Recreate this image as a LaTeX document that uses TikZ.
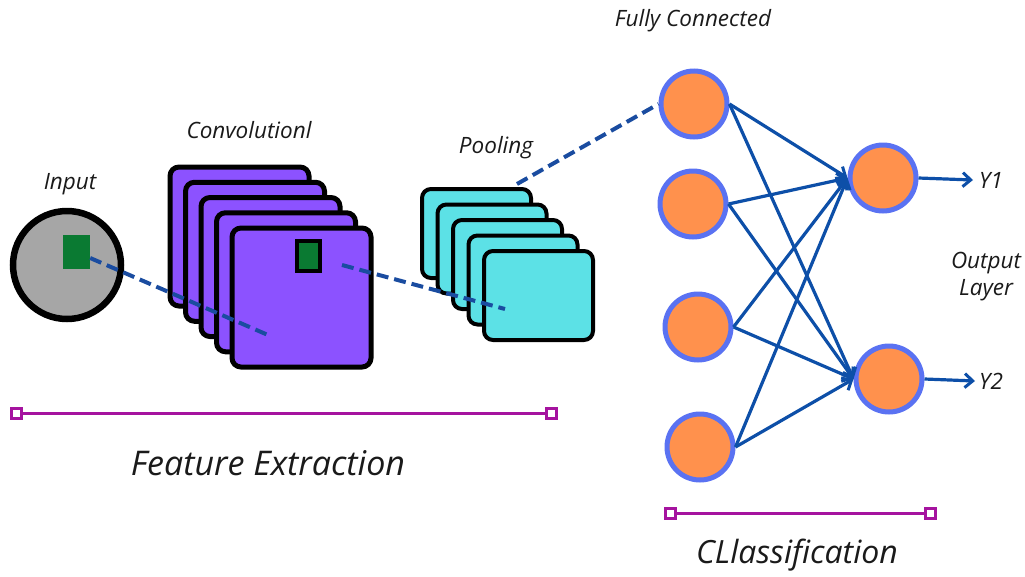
\documentclass[tikz,border=0pt]{standalone}
\usepackage{fontspec}
\setmainfont{Open Sans}
\usetikzlibrary{arrows.meta}
\definecolor{convpurple}{HTML}{8C52FF}
\definecolor{poolcyan}{HTML}{5CE1E6}
\definecolor{inputgray}{HTML}{A6A6A6}
\definecolor{patchgreen}{HTML}{0A7A32}
\definecolor{dashblue}{HTML}{1A4CA0}
\definecolor{edgeblue}{HTML}{0D4FA8}
\definecolor{ringblue}{HTML}{5A72F2}
\definecolor{neuronorange}{HTML}{FF914D}
\definecolor{brackmag}{HTML}{A5139F}
\definecolor{txt}{HTML}{1A1A1A}
\begin{document}
\begin{tikzpicture}[x=1pt,y=-1pt,
  lbl/.style={text=txt,font=\fontsize{22.5}{27}\selectfont\itshape,inner sep=0pt},
  biglbl/.style={text=txt,font=\fontsize{34}{40}\selectfont\itshape,inner sep=0pt},
  medlbl/.style={text=txt,font=\fontsize{32}{38}\selectfont\itshape,inner sep=0pt},
  inputc/.style={circle,draw=black,line width=6.5pt,fill=inputgray,minimum size=108pt,inner sep=0pt},
  greenbox/.style={rectangle,fill=patchgreen,minimum width=27pt,minimum height=34pt,inner sep=0pt},
  kernelbox/.style={rectangle,fill=patchgreen,draw=black,line width=4pt,minimum width=23pt,minimum height=30pt,inner sep=0pt},
  convsq/.style={rectangle,rounded corners=9pt,draw=black,line width=5pt,fill=convpurple,minimum width=139pt,minimum height=139pt,inner sep=0pt,anchor=north west},
  poolsq/.style={rectangle,rounded corners=9pt,draw=black,line width=4pt,fill=poolcyan,minimum width=109pt,minimum height=89pt,inner sep=0pt,anchor=north west},
  neuron/.style={circle,draw=ringblue,line width=5pt,fill=neuronorange,minimum size=66pt,inner sep=0pt},
  dashln/.style={draw=dashblue,line width=4pt,dash pattern=on 12pt off 6pt},
  edge/.style={draw=edgeblue,line width=3.2pt,-{Straight Barb[length=8pt,width=14pt,line width=3pt]}},
  brack/.style={draw=brackmag,line width=3pt},
  brackend/.style={rectangle,draw=brackmag,line width=3pt,fill=white,minimum size=10pt,inner sep=0pt}
]
\path[use as bounding box] (0,0) rectangle (1025,576);

% ---------- Input ----------
\node[inputc] (in) at (67,265) {};
\node[greenbox] (ing) at (76.5,252) {};
\node[lbl] (inlbl) at (70,184) {Input};

% ---------- Convolution stack ----------
\node[convsq] (c1) at (167.5,164.5) {};
\node[convsq] (c2) at (183,179.75) {};
\node[convsq] (c3) at (198.5,195) {};
\node[convsq] (c4) at (214,210.25) {};
\node[convsq] (c5) at (229.5,225.5) {};
\node[kernelbox] (ck) at (308.5,256) {};
\node[lbl] (convlbl) at (249,130) {Convolutionl};

% ---------- Pooling stack ----------
\node[poolsq] (p1) at (420,187) {};
\node[poolsq] (p2) at (435.5,202.5) {};
\node[poolsq] (p3) at (451,218) {};
\node[poolsq] (p4) at (466.5,233.5) {};
\node[poolsq] (p5) at (482,249) {};
\node[lbl] (poollbl) at (496,148) {Pooling};

% ---------- Fully connected ----------
\node[neuron] (f1) at (694,104) {};
\node[neuron] (f2) at (693,204) {};
\node[neuron] (f3) at (698,327) {};
\node[neuron] (f4) at (700,447) {};
\node[lbl] (fclbl) at (693,21) {Fully Connected};

% ---------- Output ----------
\node[neuron] (o1) at (883,178) {};
\node[neuron] (o2) at (889,379) {};
\node[lbl,anchor=west] (y1) at (979,180) {Y1};
\node[lbl,anchor=west] (y2) at (979,381) {Y2};
\node[lbl,align=center] (outlbl) at (986,277) {Output\\Layer};

% ---------- dashed links ----------
\coordinate (d1e) at (268,335);
\coordinate (d2s) at (342,265);
\coordinate (d2e) at (505,309);
\coordinate (d3s) at (517,184);
\draw[dashln] ([yshift=-6pt]ing.east) -- (d1e);
\draw[dashln] (d2s) -- (d2e);
\draw[dashln] (d3s) -- (f1.west);

% ---------- edges ----------
\foreach \s in {f1,f2,f3,f4}{
  \draw[edge] (\s.east) -- (o1.west);
  \draw[edge] (\s.east) -- (o2.west);
}
\draw[edge] (o1.east) -- ([xshift=-6pt]y1.west);
\draw[edge] (o2.east) -- ([xshift=-4pt]y2.west);

% ---------- brackets ----------
\node[brackend] (fa) at (16,413) {};
\node[brackend] (fb) at (551,413) {};
\draw[brack] (fa) -- (fb);
\node[biglbl] (felbl) at (268,463) {Feature Extraction};

\node[brackend] (ca) at (670,513) {};
\node[brackend] (cb) at (930,513) {};
\draw[brack] (ca) -- (cb);
\node[medlbl] (cllbl) at (797,555) {CLlassification};
\end{tikzpicture}
\end{document}
